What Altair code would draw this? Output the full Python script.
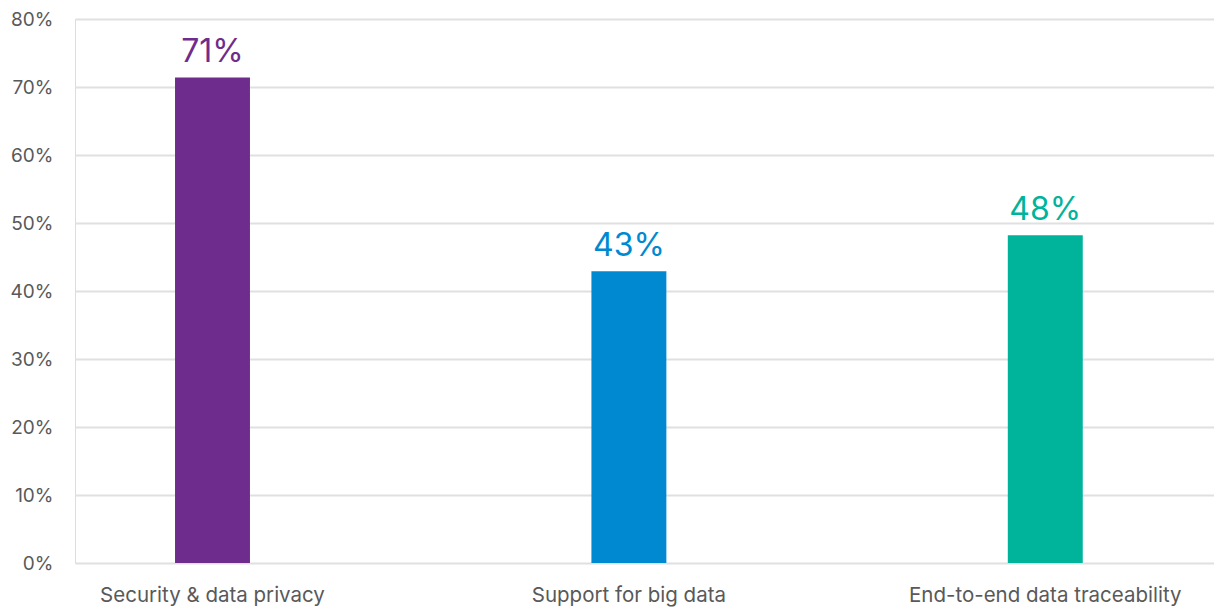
import altair as alt
import pandas as pd

categories = ["Security & data privacy", "Support for big data", "End-to-end data traceability"]
values = [71.4, 42.9, 48.2]
labels = ["71%", "43%", "48%"]
colors = ["#6E2C8C", "#0089D1", "#00B39B"]

df = pd.DataFrame({"cat": categories, "val": values, "lab": labels, "col": colors})

FONT = "Inter"

x = alt.X("cat:N", sort=categories, title=None,
          scale=alt.Scale(paddingInner=0.82, paddingOuter=0.2777, align=0.4325),
          axis=alt.Axis(labelAngle=0, labelFontSize=20.5, labelColor="#595959",
                        labelFont=FONT, labelPadding=22, ticks=False, domain=False,
                        labelLimit=400))
y = alt.Y("val:Q", title=None,
          scale=alt.Scale(domain=[0, 80], nice=False),
          axis=alt.Axis(values=[0, 10, 20, 30, 40, 50, 60, 70, 80],
                        labelExpr="datum.value + '%'",
                        labelFontSize=19, labelColor="#595959", labelFont=FONT,
                        labelPadding=22, ticks=False, domain=False,
                        grid=True, gridColor="#E0E0E0", gridWidth=2))

base = alt.Chart(df)
bars = base.mark_bar().encode(x=x, y=y, color=alt.Color("col:N", scale=None))
text = base.mark_text(dy=-15, baseline="alphabetic", fontSize=32, font=FONT).encode(
    x=alt.X("cat:N", sort=categories), y="val:Q", text="lab:N",
    color=alt.Color("col:N", scale=None))

chart = (bars + text).properties(
    width=1139, height=544,
    autosize=alt.AutoSizeParams(type="none"),
    padding={"left": 75, "top": 19, "right": 0, "bottom": 49},
).configure_view(stroke=None).configure(background="white")

chart.save("out.html", embed_options={"renderer": "svg", "actions": False})
